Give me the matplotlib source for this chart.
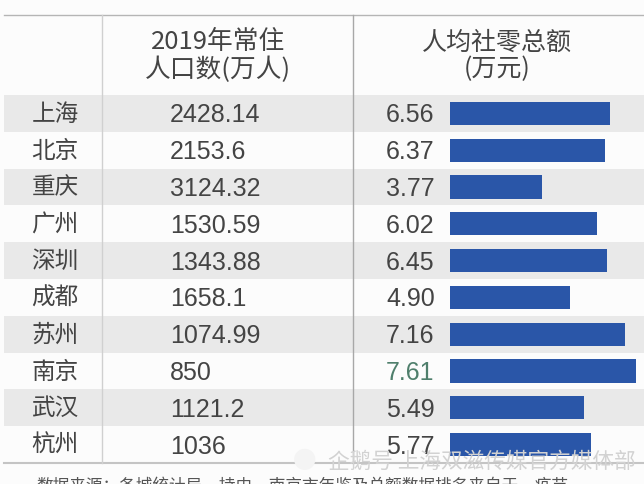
import matplotlib
matplotlib.use('Agg')
from matplotlib import pyplot as plt

plt.rcParams['font.family'] = ['Noto Sans CJK SC', 'DejaVu Sans']

cities = ['上海', '北京', '重庆', '广州', '深圳', '成都', '苏州', '南京', '武汉', '杭州']
population = ['2428.14', '2153.6', '3124.32', '1530.59', '1343.88', '1658.1', '1074.99', '850', '1121.2', '1036']
retail = [6.56, 6.37, 3.77, 6.02, 6.45, 4.90, 7.16, 7.61, 5.49, 5.77]

text_col = '#444444'
bar_col = '#2a56a8'

fig = plt.figure(figsize=(6.44, 4.84), dpi=100, facecolor='#fcfcfc')

# 배경 표는 픽셀 좌표로
ax = fig.add_axes([0, 0, 1, 1])
ax.set_xlim(0, 644)
ax.set_ylim(484, 0)
ax.axis('off')

row_top = 95
row_h = 36.8
for i, city in enumerate(cities):
    y = row_top + row_h * (i + 0.5)
    if i % 2 == 0:
        ax.axhspan(row_top + row_h * i, row_top + row_h * (i + 1), xmin=4 / 644, xmax=1, color='#e9e9e9', lw=0)
    ax.text(55, y + 1, city, ha='center', va='center', fontsize=17, color=text_col)
    ax.text(170, y + 2, population[i], ha='left', va='center', fontsize=18, color=text_col, family='Liberation Sans')
    ax.text(386, y + 2, '%.2f' % retail[i], ha='left', va='center', fontsize=18,
            color='#4f7f6c' if city == '南京' else text_col, family='Liberation Sans')

ax.plot([4, 644], [15, 15], color='#b5b5b5', lw=1)
ax.plot([4, 644], [463, 463], color='#c4c4c4', lw=1.5)
ax.plot([102, 102], [15, 463], color='#d0d0d0', lw=1)
ax.plot([353, 353], [15, 463], color='#a8a8a8', lw=1)

ax.text(218, 56, '2019年常住\n人口数(万人)', ha='center', va='center', fontsize=18.5, color=text_col, linespacing=1.05)
ax.text(497, 56, '人均社零总额\n(万元)', ha='center', va='center', fontsize=18, color=text_col, linespacing=1.05)

ax.text(36, 487, '数据来源：各城统计局、持由，南京市年鉴及总额数据排名来自于，疫苗', ha='left', va='center',
        fontsize=12, color='#555555', clip_on=False)

# 수평 막대
bar_ax = fig.add_axes([450 / 644, 1 - (row_top + row_h * 10) / 484, 194 / 644, row_h * 10 / 484])
bar_ax.barh(range(10), retail, height=0.63, color=bar_col)
bar_ax.set_xlim(0, 194 / 24.4)
bar_ax.set_ylim(9.5, -0.5)
bar_ax.axis('off')

# 워터마크
ax2 = fig.add_axes([0, 0, 1, 1], zorder=5)
ax2.set_xlim(0, 644)
ax2.set_ylim(484, 0)
ax2.axis('off')
ax2.text(328, 462, '企鹅号 上海双滋传媒官方媒体部', ha='left', va='center', fontsize=15.6, color='#d2d2d2')
ax2.text(305, 461, '●', ha='center', va='center', fontsize=17, color='#f4f4f4')

fig.savefig('out.png', dpi=100, facecolor=fig.get_facecolor())
